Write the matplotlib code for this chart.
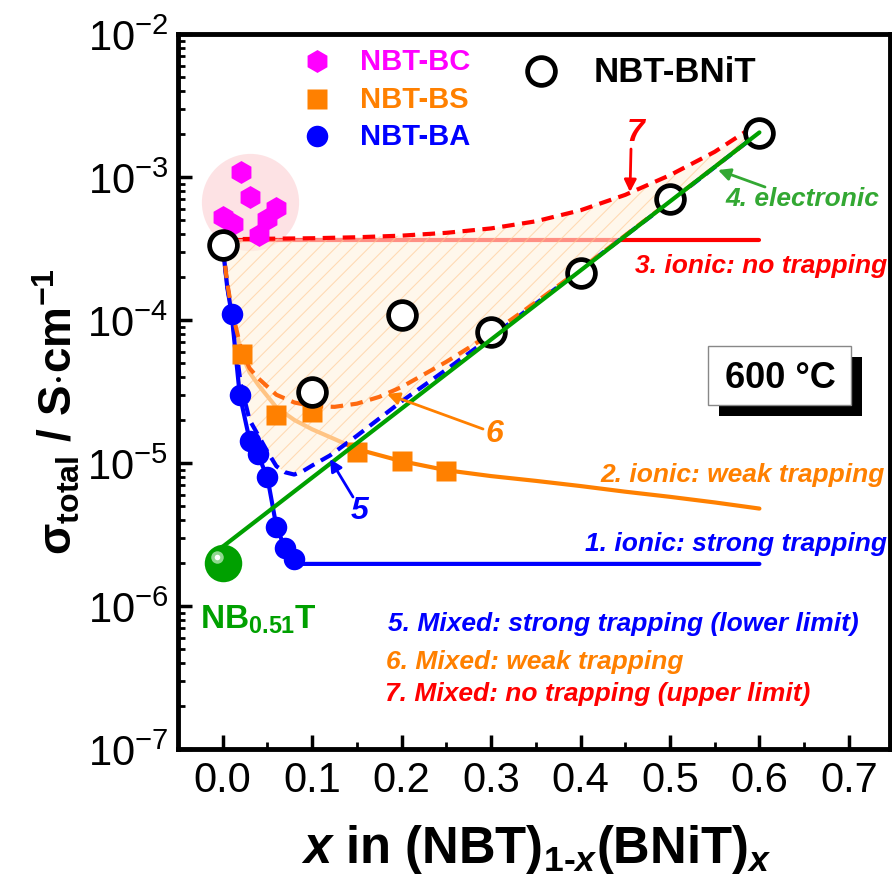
import matplotlib
matplotlib.use("Agg")
import matplotlib.pyplot as plt
from matplotlib.ticker import MultipleLocator, LogLocator, NullFormatter
from matplotlib.patches import Rectangle
from matplotlib import transforms

plt.rcParams['font.family'] = ['Liberation Sans', 'DejaVu Sans']
plt.rcParams['mathtext.fontset'] = 'custom'
plt.rcParams['mathtext.rm'] = 'Liberation Sans:bold'
plt.rcParams['mathtext.it'] = 'Liberation Sans:italic'
plt.rcParams['mathtext.bf'] = 'Liberation Sans:bold'
plt.rcParams['mathtext.bfit'] = 'Liberation Sans:italic:bold'
plt.rcParams['hatch.linewidth'] = 0.8

# measured samples
bnit_x = [0.0, 0.1, 0.2, 0.3, 0.4, 0.5, 0.6]
bnit_y = [3.34e-4, 3.12e-5, 1.09e-4, 8.2e-5, 2.14e-4, 7.0e-4, 2.02e-3]

bc_x = [0.020, 0.030, 0.060, 0.0, 0.011, 0.050, 0.040]
bc_y = [1.09e-3, 7.3e-4, 6.1e-4, 5.25e-4, 4.7e-4, 5.1e-4, 3.9e-4]

bs_x = [0.021, 0.06, 0.10, 0.15, 0.20, 0.25]
bs_y = [5.8e-5, 2.18e-5, 2.27e-5, 1.19e-5, 1.04e-5, 8.8e-6]

ba_x = [0.01, 0.019, 0.03, 0.039, 0.05, 0.06, 0.07, 0.08]
ba_y = [1.10e-4, 2.99e-5, 1.43e-5, 1.16e-5, 7.98e-6, 3.57e-6, 2.55e-6, 2.13e-6]

nb_x = [0.0]
nb_y = [2.0e-6]

# model curves
c1_x = [0.0, 0.005, 0.01, 0.019, 0.03, 0.04, 0.05, 0.06, 0.07, 0.08, 0.09, 0.6]
c1_y = [3.3e-4, 1.7e-4, 1.1e-4, 3.0e-5, 1.45e-5, 1.12e-5, 7.9e-6, 3.6e-6, 2.5e-6, 2.1e-6, 1.97e-6, 1.97e-6]

c2_x = [0.0, 0.005, 0.01, 0.021, 0.03, 0.04, 0.06, 0.08, 0.10, 0.125, 0.15, 0.2,
        0.25, 0.3, 0.35, 0.4, 0.45, 0.5, 0.55, 0.6]
c2_y = [3.3e-4, 1.8e-4, 1.15e-4, 5.8e-5, 4.3e-5, 3.5e-5, 2.45e-5, 2.0e-5, 1.72e-5, 1.47e-5,
        1.25e-5, 1.03e-5, 8.9e-6, 8.1e-6, 7.5e-6, 6.9e-6, 6.3e-6, 5.8e-6, 5.3e-6, 4.8e-6]

c3_x = [0.0, 0.6]
c3_y = [3.65e-4, 3.65e-4]

c4_x = [0.0, 0.6]
c4_y = [2.6e-6, 2.05e-3]

c5_x = [0.0, 0.005, 0.01, 0.02, 0.03, 0.04, 0.05, 0.06, 0.07, 0.08, 0.09, 0.1, 0.12,
        0.15, 0.2, 0.25, 0.3, 0.35, 0.4, 0.5, 0.6]
c5_y = [3.3e-4, 1.75e-4, 1.12e-4, 3.6e-5, 2.0e-5, 1.55e-5, 1.2e-5, 9.5e-6, 8.6e-6, 8.3e-6,
        8.8e-6, 9.6e-6, 1.13e-5, 1.55e-5, 2.7e-5, 4.5e-5, 7.6e-5, 1.3e-4, 2.25e-4, 6.7e-4, 2.05e-3]

c6_x = [0.0, 0.005, 0.01, 0.021, 0.03, 0.04, 0.06, 0.08, 0.1, 0.125, 0.15, 0.175, 0.2,
        0.25, 0.3, 0.35, 0.4, 0.5, 0.6]
c6_y = [3.3e-4, 1.82e-4, 1.18e-4, 6.1e-5, 4.6e-5, 3.9e-5, 3.0e-5, 2.65e-5, 2.5e-5, 2.47e-5,
        2.6e-5, 2.9e-5, 3.4e-5, 5.1e-5, 8.0e-5, 1.33e-4, 2.26e-4, 6.75e-4, 2.05e-3]

c7_x = [0.0, 0.05, 0.1, 0.15, 0.2, 0.25, 0.3, 0.35, 0.4, 0.45, 0.5, 0.55, 0.6]
c7_y = [3.67e-4, 3.7e-4, 3.73e-4, 3.79e-4, 3.89e-4, 4.07e-4, 4.37e-4, 4.9e-4, 5.85e-4,
        7.5e-4, 1.03e-3, 1.5e-3, 2.4e-3]

x_ticks = [0.0, 0.1, 0.2, 0.3, 0.4, 0.5, 0.6, 0.7]
y_ticks = [1e-7, 1e-6, 1e-5, 1e-4, 1e-3, 1e-2]
y_labels = [r'$\mathdefault{10^{-%d}}$' % k for k in (7, 6, 5, 4, 3, 2)]

MAG = '#ff00ff'
ORG = '#ff8000'
ORG_D = '#ff6a10'
BLU = '#0000ff'
RED = '#ff0000'
GRN = '#00a000'

fig = plt.figure(figsize=(8.92, 8.78), dpi=100)
ax = fig.add_axes([178 / 892, 1 - 750 / 878, 712 / 892, 715 / 878])


def pos(px, py):
    # pixel position in the picture -> axes fraction
    return ((px - 178) / 712, (750 - py) / 715)


# background blob behind the NBT-BC points
ax.plot([0.031], [6.7e-4], 'o', ms=70, color='#fde2e4', mec='none', zorder=1)

# ionic lines under the shaded region
ax.plot(c3_x, c3_y, color=RED, lw=3, zorder=2, solid_capstyle='round')
ax.plot(c2_x, c2_y, color=ORG, lw=3, zorder=2, solid_capstyle='round')

ax.fill(c5_x + c7_x[::-1], c5_y + c7_y[::-1], facecolor=(1.0, 0.95, 0.87),
        edgecolor='#ffc890', hatch='//', lw=0, alpha=0.6, zorder=3)

dash = (0, (3, 1.8))
ax.plot(c1_x, c1_y, color=BLU, lw=3, zorder=4, solid_capstyle='round')
ax.plot(c5_x, c5_y, color=BLU, lw=3, ls=dash, zorder=4)
ax.plot(c6_x, c6_y, color=ORG_D, lw=3, ls=dash, zorder=4)
ax.plot(c7_x, c7_y, color=RED, lw=3, ls=dash, zorder=4)

ax.plot(bc_x, bc_y, 'h', ms=16.5, color=MAG, mec='none', zorder=5)
ax.plot(bs_x, bs_y, 's', ms=14.5, color=ORG, mec='none', zorder=5)
ax.plot(ba_x, ba_y, 'o', ms=15.5, color=BLU, mec='none', zorder=5)
ax.plot(bnit_x, bnit_y, 'o', ms=20, mfc='white', mec='black', mew=3.4, zorder=6)

ax.plot(c4_x, c4_y, color=GRN, lw=3, zorder=7, solid_capstyle='round')

# shiny NB0.51T sphere
ax.plot(nb_x, nb_y, 'o', ms=27, color=GRN, mec='none', zorder=8)
hl = transforms.offset_copy(ax.transData, fig=fig, x=-6, y=6, units='dots')
ax.plot(nb_x, nb_y, 'o', ms=9, color='#8fd88f', mec='none', zorder=9, transform=hl)
ax.plot(nb_x, nb_y, 'o', ms=4, color='white', mec='none', zorder=10, transform=hl)

ax.set_xlim(-0.05, 0.746)
ax.set_ylim(1e-7, 1e-2)
ax.set_yscale('log')
ax.set_xticks(x_ticks)
ax.set_xticklabels(['%.1f' % v for v in x_ticks])
ax.set_yticks(y_ticks)
ax.set_yticklabels(y_labels)
ax.xaxis.set_minor_locator(MultipleLocator(0.05))
ax.yaxis.set_minor_locator(LogLocator(base=10, subs=range(2, 10), numticks=10))
ax.yaxis.set_minor_formatter(NullFormatter())
ax.tick_params(which='both', direction='in', top=False, right=False)
ax.tick_params(which='major', length=10, width=2.5)
ax.tick_params(which='minor', length=5, width=2)
ax.tick_params(axis='x', labelsize=30, pad=8)
ax.tick_params(axis='y', labelsize=30, pad=7)
for lbl in ax.get_xticklabels() + ax.get_yticklabels():
    lbl.set_fontweight('normal')
for s in ax.spines.values():
    s.set_linewidth(3.5)

ax.set_xlabel(r'$\mathbfit{x}$ in (NBT)$_{\mathbf{1}\text{-}\mathbfit{x}}$(BNiT)$_{\mathbfit{x}}$',
              fontsize=36.5, fontweight='bold', va='baseline')
ax.xaxis.set_label_coords(*pos(536, 863))
ax.set_ylabel(r'$\mathbf{\sigma}_{\mathbf{total}}$ / S$\cdot$cm$^{\mathbf{-1}}$',
              fontsize=33, fontweight='bold', va='center')
ax.yaxis.set_label_coords(*pos(57, 412))

# hand made legend
leg = [('h', 16.5, MAG, 'NBT-BC', 62), ('s', 14.5, ORG, 'NBT-BS', 100),
       ('o', 15.5, BLU, 'NBT-BA', 137)]
for mk, ms, col, name, py in leg:
    ax.plot([pos(317, py)[0]], [pos(317, py)[1]], mk, ms=ms, color=col, mec='none',
            transform=ax.transAxes, clip_on=False)
    ax.text(*pos(360, py), name, color=col, fontsize=21, fontweight='bold',
            ha='left', va='center', transform=ax.transAxes)
ax.plot([pos(541, 72)[0]], [pos(541, 72)[1]], 'o', ms=20, mfc='white', mec='black',
        mew=3.4, transform=ax.transAxes, clip_on=False)
ax.text(*pos(594, 72), 'NBT-BNiT', color='black', fontsize=25, fontweight='bold',
        ha='left', va='center', transform=ax.transAxes)

# 600 C box with shadow
ax.add_patch(Rectangle(pos(719, 417), 143 / 712, 59 / 715, transform=ax.transAxes,
                       facecolor='black', edgecolor='none', zorder=11))
ax.add_patch(Rectangle(pos(708, 406), 143 / 712, 59 / 715, transform=ax.transAxes,
                       facecolor='white', edgecolor='#888888', lw=1, zorder=12))
ax.text(*pos(780, 378), '600 °C', fontsize=26, fontweight='bold', ha='center',
        va='center', transform=ax.transAxes, zorder=13)

lab = dict(fontsize=19, fontweight='bold', style='italic', transform=ax.transAxes,
           va='center')
ax.text(*pos(887, 266), '3. ionic: no trapping', color=RED, ha='right', **lab)
ax.text(*pos(885, 475), '2. ionic: weak trapping', color=ORG, ha='right', **lab)
ax.text(*pos(887, 544), '1. ionic: strong trapping', color=BLU, ha='right', **lab)
ax.text(*pos(725, 199), '4. electronic', color='#33a833', ha='left', **lab)
ax.text(*pos(388, 624), '5. Mixed: strong trapping (lower limit)', color=BLU, ha='left', **lab)
ax.text(*pos(386, 662), '6. Mixed: weak trapping', color=ORG, ha='left', **lab)
ax.text(*pos(385, 694), '7. Mixed: no trapping (upper limit)', color=RED, ha='left', **lab)

num = dict(fontsize=23, fontweight='bold', style='italic', transform=ax.transAxes,
           ha='center', va='center')
ax.text(*pos(636, 133), '7', color=RED, **num)
ax.text(*pos(494, 434), '6', color=ORG, **num)
ax.text(*pos(360, 511), '5', color=BLU, **num)

ax.text(*pos(200, 629), r'NB$_{\mathbf{0.51}}$T', color=GRN, fontsize=24,
        fontweight='bold', ha='left', va='baseline', transform=ax.transAxes, zorder=9)


def arrow(p0, p1, col):
    ax.annotate('', xy=pos(*p1), xytext=pos(*p0), xycoords='axes fraction',
                textcoords='axes fraction',
                arrowprops=dict(arrowstyle='-|>', color=col, lw=2, mutation_scale=18,
                                shrinkA=0, shrinkB=0), zorder=9)


arrow((631, 150), (630, 193), RED)
arrow((765, 188), (718, 171), '#33a833')
arrow((483, 430), (387, 395), ORG)
arrow((353, 498), (330, 460), BLU)

fig.savefig('out.png', dpi=100)
